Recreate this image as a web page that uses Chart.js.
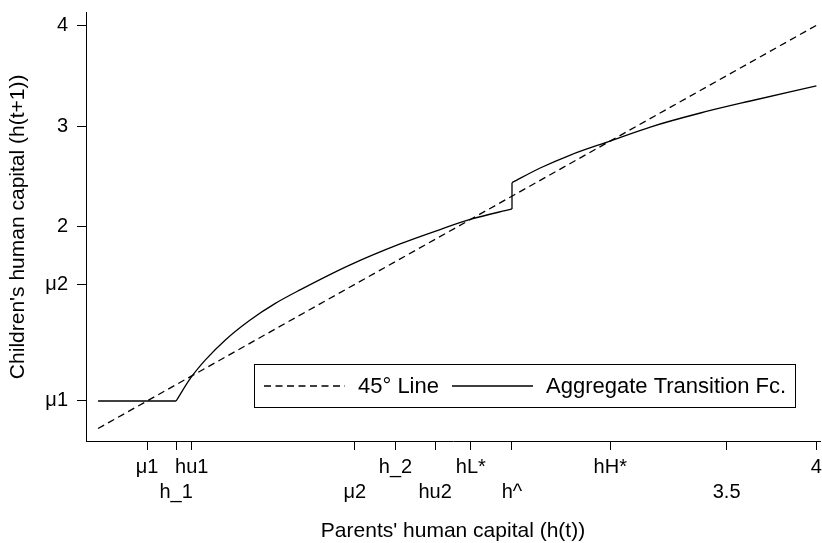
<!DOCTYPE html>
<html><head><meta charset="utf-8">
<script src="https://cdn.jsdelivr.net/npm/chart.js@4.4.0/dist/chart.umd.min.js"></script>
<style>html,body{margin:0;padding:0;background:#fff;}#wrap{width:822px;height:543px;}</style>
</head><body><div id="wrap"><canvas id="c" width="822" height="543"></canvas></div>
<script>
// ---- data ----
const mu1 = 0.273, mu2 = 1.43;
const diagX = [0, 4];
const diagY = [0, 4];
const flatX = [0, 0.435];
const flatY = [0.273, 0.273];
const lowerX = [0.435, 0.513, 0.598, 0.709, 0.847, 0.985, 1.125, 1.404, 1.682, 1.905, 2.076, 2.305];
const lowerY = [0.273, 0.495, 0.681, 0.879, 1.077, 1.239, 1.375, 1.623, 1.831, 1.974, 2.076, 2.178];
const jumpX = [2.305, 2.305];
const jumpY = [2.178, 2.439];
const upperX = [2.305, 2.462, 2.630, 2.852, 3.075, 3.354, 3.632, 4.0];
const upperY = [2.439, 2.584, 2.713, 2.852, 2.991, 3.130, 3.249, 3.398];
const xTickValues = [mu1, 0.435, 0.522, mu2, 1.656, 1.877, 2.076, 2.305, 2.852, 3.5, 4];
const xTickLabels = ['μ1', 'h_1', 'hu1', 'μ2', 'h_2', 'hu2', 'hL*', 'h^', 'hH*', '3.5', '4'];
const xTickRows   = [0, 1, 0, 1, 0, 1, 0, 1, 0, 1, 0];
const yTickValues = [mu1, mu2, 2, 3, 4];
const yTickLabels = ['μ1', 'μ2', '2', '3', '4'];
const seriesNames = ['45° Line', 'Aggregate Transition Fc.'];

const FAM = "'Liberation Sans', Arial, sans-serif";
const pts = (xs, ys) => xs.map((x, i) => ({x, y: ys[i]}));
const dashed = [7, 4.5];
const base = {borderColor: '#000', borderWidth: 1.3, pointRadius: 0, fill: false, tension: 0};

const legendPlugin = {
  id: 'boxLegend',
  afterDatasetsDraw(chart) {
    const ctx = chart.ctx;
    ctx.save();
    const L = 254.5, T = 364.5, W = 541, H = 43;
    ctx.fillStyle = '#fff';
    ctx.fillRect(L, T, W, H);
    ctx.strokeStyle = '#000'; ctx.lineWidth = 1;
    ctx.strokeRect(L, T, W, H);
    const cy = T + H / 2;
    ctx.lineWidth = 1.3;
    ctx.setLineDash(dashed);
    ctx.beginPath(); ctx.moveTo(264, cy); ctx.lineTo(345, cy); ctx.stroke();
    ctx.setLineDash([]);
    ctx.beginPath(); ctx.moveTo(452, cy); ctx.lineTo(533, cy); ctx.stroke();
    ctx.fillStyle = '#000';
    ctx.font = "22px " + FAM;
    ctx.textBaseline = 'middle'; ctx.textAlign = 'left';
    ctx.fillText(seriesNames[0], 358, cy + 1);
    ctx.fillText(seriesNames[1], 546, cy + 1);
    ctx.restore();
  }
};

const noPadX = s => { s.height = 102; s.paddingLeft = 0; s.paddingRight = 0; };
const noPadY = s => { s.width = 86; s.paddingTop = 0; s.paddingBottom = 0; };

new Chart(document.getElementById('c'), {
  type: 'line',
  data: {
    datasets: [
      Object.assign({label: seriesNames[0], data: pts(diagX, diagY), borderDash: dashed}, base),
      Object.assign({label: seriesNames[1], data: pts(flatX, flatY)}, base),
      Object.assign({label: seriesNames[1], data: pts(lowerX, lowerY), cubicInterpolationMode: 'monotone'}, base),
      Object.assign({label: seriesNames[1], data: pts(jumpX, jumpY)}, base),
      Object.assign({label: seriesNames[1], data: pts(upperX, upperY), cubicInterpolationMode: 'monotone'}, base)
    ]
  },
  options: {
    responsive: false, animation: false,
    layout: {padding: {top: 12.7, right: 2, left: 0, bottom: 0}},
    plugins: {legend: {display: false}, tooltip: {enabled: false}},
    scales: {
      x: {
        type: 'linear', min: -0.067, max: 4.02,
        afterBuildTicks: s => { s.ticks = xTickValues.map(v => ({value: v})); },
        afterFit: noPadX,
        grid: {drawOnChartArea: false, drawTicks: true, tickLength: 9, tickColor: '#000', tickWidth: 1},
        border: {display: true, color: '#000', width: 1},
        ticks: {
          autoSkip: false, maxRotation: 0, minRotation: 0, padding: 5, color: '#000',
          font: {family: FAM, size: 20, lineHeight: 25 / 20},
          callback: (v, i) => xTickRows[i] === 0 ? [xTickLabels[i], ''] : ['', xTickLabels[i]]
        },
        title: {display: true, text: "Parents' human capital (h(t))", color: '#000',
          font: {family: FAM, size: 21, lineHeight: 1.1}, padding: {top: 0, bottom: 0}}
      },
      y: {
        type: 'linear', min: -0.124, max: 4.125,
        afterBuildTicks: s => { s.ticks = yTickValues.map(v => ({value: v})); },
        afterFit: noPadY,
        grid: {drawOnChartArea: false, drawTicks: true, tickLength: 9, tickColor: '#000', tickWidth: 1},
        border: {display: true, color: '#000', width: 1},
        ticks: {
          autoSkip: false, padding: 9, color: '#000',
          font: {family: FAM, size: 20},
          callback: (v, i) => yTickLabels[i]
        },
        title: {display: true, text: "Children's human capital (h(t+1))", color: '#000',
          font: {family: FAM, size: 21, lineHeight: 1.1}, padding: {top: 6.5, bottom: 0}}
      }
    }
  },
  plugins: [legendPlugin]
});
</script>
</body></html>
